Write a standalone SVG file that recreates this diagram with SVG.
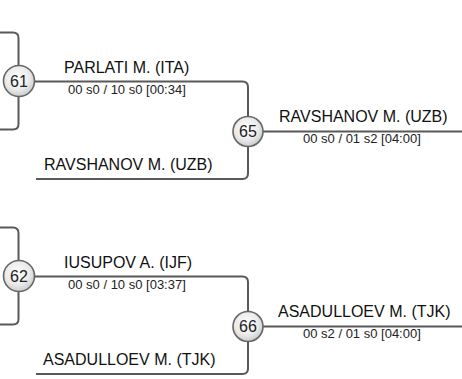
<svg xmlns="http://www.w3.org/2000/svg" width="462" height="379" viewBox="0 0 462 379">
<style>
.ln{fill:none;stroke:#595959;stroke-width:2}
.nd{fill:url(#g);stroke:#666;stroke-width:1.6}
.num{font-family:"Liberation Sans",Arial,sans-serif;font-size:16px;fill:#222;text-anchor:middle}
.nm{font-family:"Liberation Sans",Arial,sans-serif;font-size:16px;fill:#111}
.sc{font-family:"Liberation Sans",Arial,sans-serif;font-size:13px;fill:#222}
</style>
<defs>
<radialGradient id="g" cx="45%" cy="40%" r="65%">
<stop offset="0" stop-color="#ffffff"/>
<stop offset="0.6" stop-color="#eaeaea"/>
<stop offset="1" stop-color="#c4c4c4"/>
</radialGradient>
</defs>
<g id="connectors">
<path class="ln" d="M0,32.5 H13 Q18.5,32.5 18.5,38 V124 Q18.5,129.5 13,129.5 H0"/>
<path class="ln" d="M34,81.5 H242.5 Q248,81.5 248,87 V173.5 Q248,179 242.5,179 H36"/>
<path class="ln" d="M263,131.5 H462"/>
<path class="ln" d="M0,227.5 H13 Q18.5,227.5 18.5,233 V319 Q18.5,324.5 13,324.5 H0"/>
<path class="ln" d="M34,276.5 H242.5 Q248,276.5 248,282 V368.5 Q248,374 242.5,374 H36"/>
<path class="ln" d="M263,326.5 H462"/>
</g>
<g id="labels">
<text class="nm" x="64" y="73">PARLATI M. (ITA)</text>
<text class="sc" x="68" y="94">00 s0 / 10 s0 [00:34]</text>
<text class="nm" x="44" y="170">RAVSHANOV M. (UZB)</text>
<text class="nm" x="279" y="122">RAVSHANOV M. (UZB)</text>
<text class="sc" x="303" y="143">00 s0 / 01 s2 [04:00]</text>
<text class="nm" x="64" y="268">IUSUPOV A. (IJF)</text>
<text class="sc" x="68" y="289">00 s0 / 10 s0 [03:37]</text>
<text class="nm" x="43" y="365">ASADULLOEV M. (TJK)</text>
<text class="nm" x="278" y="317">ASADULLOEV M. (TJK)</text>
<text class="sc" x="303" y="338">00 s2 / 01 s0 [04:00]</text>
</g>
<g id="n61"><circle class="nd" cx="19" cy="81" r="15.5"/><text class="num" x="19" y="86.8">61</text></g>
<g id="n65"><circle class="nd" cx="248" cy="131.5" r="15"/><text class="num" x="248" y="137.3">65</text></g>
<g id="n62"><circle class="nd" cx="19" cy="276" r="15.5"/><text class="num" x="19" y="281.8">62</text></g>
<g id="n66"><circle class="nd" cx="248" cy="326.5" r="15"/><text class="num" x="248" y="332.3">66</text></g>
</svg>
